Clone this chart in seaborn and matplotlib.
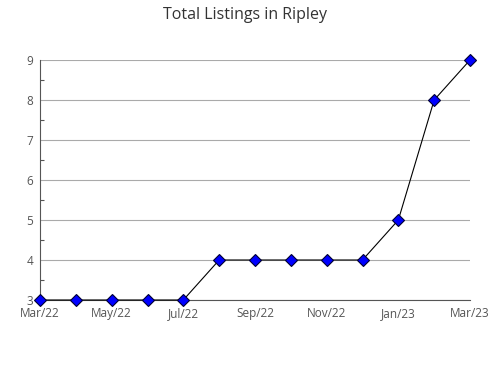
import matplotlib
matplotlib.use("Agg")
import matplotlib.pyplot as plt
import seaborn as sns
import pandas as pd

months = ["Mar/22", "Apr/22", "May/22", "Jun/22", "Jul/22", "Aug/22", "Sep/22",
          "Oct/22", "Nov/22", "Dec/22", "Jan/23", "Feb/23", "Mar/23"]
listings = [3, 3, 3, 3, 3, 4, 4, 4, 4, 4, 5, 8, 9]
y_ticks = [3, 4, 5, 6, 7, 8, 9]

sns.set_style("white")
plt.rcParams["font.family"] = ["Open Sans", "DejaVu Sans"]

df = pd.DataFrame({"idx": range(len(months)), "month": months, "value": listings})

fig = plt.figure(figsize=(4.9, 3.8), dpi=100)
ax = fig.add_axes([40/490, 1-300/380, 430/490, 240/380])

sns.lineplot(data=df, x="idx", y="value", ax=ax, color="black", linewidth=0.8,
             marker="D", markersize=6, markerfacecolor="#0000ff",
             markeredgecolor="#000033", markeredgewidth=0.8, clip_on=False, zorder=3)

ax.set_xlim(0, len(months) - 1)
ax.set_ylim(3, 9)
ax.set_yticks(y_ticks)
ax.set_yticks([3.5, 4.5, 5.5, 6.5, 7.5, 8.5], minor=True)
ax.set_xticks(range(len(months)))
ax.set_xticklabels([m if i % 2 == 0 else "" for i, m in enumerate(months)])
ax.yaxis.grid(True, color="#aaaaaa", linewidth=0.8)
ax.set_axisbelow(True)
for s in ["top", "right"]:
    ax.spines[s].set_visible(False)
for s in ["left", "bottom"]:
    ax.spines[s].set_color("#555555")
    ax.spines[s].set_linewidth(0.8)
ax.tick_params(axis="x", direction="out", length=4, width=0.8, color="#555555",
               labelsize=8.5, labelcolor="#555555", pad=1)
ax.tick_params(axis="y", which="major", direction="in", length=4, width=0.8,
               color="#555555", labelsize=8.5, labelcolor="#555555", pad=5)
ax.tick_params(axis="y", which="minor", direction="in", length=3, width=0.8,
               color="#555555", left=True)
ax.set_xlabel("")
ax.set_ylabel("")
fig.suptitle("Total Listings in Ripley", x=0.5, y=1-15/380, va="center",
             fontsize=11.5, color="#333333")

fig.savefig("out.png", dpi=100)
